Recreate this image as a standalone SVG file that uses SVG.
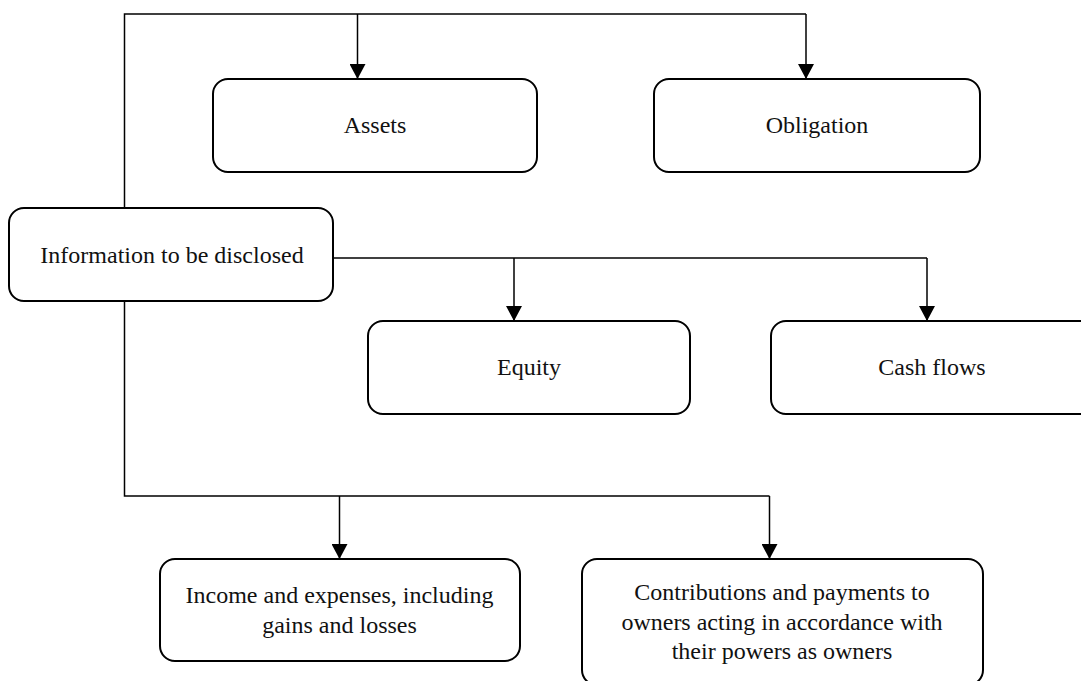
<svg xmlns="http://www.w3.org/2000/svg" width="1081" height="681" viewBox="0 0 1081 681">
  <defs>
    <marker id="arrow" markerUnits="userSpaceOnUse" markerWidth="15" markerHeight="16" viewBox="0 0 15 16" refX="15" refY="8" orient="auto">
      <path d="M0,0 L15,8 L0,16 Z" fill="#000"/>
    </marker>
    <style>
      .box { fill: #fff; stroke: #000; stroke-width: 2; }
      .lbl { font-family: "Liberation Serif", "Times New Roman", serif; font-size: 24px; fill: #111; text-anchor: middle; }
      .conn { fill: none; stroke: #000; stroke-width: 1.5; }
    </style>
  </defs>
  <rect width="1081" height="681" fill="#fff"/>

  <g id="connectors">
    <path class="conn" d="M124.5,208 V14 H806"/>
    <path class="conn" d="M357.5,14 V79" marker-end="url(#arrow)"/>
    <path class="conn" d="M806,14 V79" marker-end="url(#arrow)"/>
    <path class="conn" d="M333,258 H927"/>
    <path class="conn" d="M514,258 V321" marker-end="url(#arrow)"/>
    <path class="conn" d="M927,258 V321" marker-end="url(#arrow)"/>
    <path class="conn" d="M124.5,301 V496 H769.5"/>
    <path class="conn" d="M339.5,496 V559" marker-end="url(#arrow)"/>
    <path class="conn" d="M769.5,496 V559" marker-end="url(#arrow)"/>
  </g>

  <g id="node-assets">
    <rect class="box" x="213" y="79" width="324" height="93" rx="15"/>
    <text class="lbl" x="375" y="133">Assets</text>
  </g>
  <g id="node-obligation">
    <rect class="box" x="654" y="79" width="326" height="93" rx="15"/>
    <text class="lbl" x="817" y="133">Obligation</text>
  </g>
  <g id="node-info">
    <rect class="box" x="9" y="208" width="324" height="93" rx="15"/>
    <text class="lbl" x="172" y="263">Information to be disclosed</text>
  </g>
  <g id="node-equity">
    <rect class="box" x="368" y="321" width="322" height="93" rx="15"/>
    <text class="lbl" x="529" y="375">Equity</text>
  </g>
  <g id="node-cashflows">
    <rect class="box" x="771" y="321" width="324" height="93" rx="15"/>
    <text class="lbl" x="932" y="375">Cash flows</text>
  </g>
  <g id="node-income">
    <rect class="box" x="160" y="559" width="360" height="102" rx="15"/>
    <text class="lbl" x="339.5" y="603">Income and expenses, including</text>
    <text class="lbl" x="339.5" y="633">gains and losses</text>
  </g>
  <g id="node-contributions">
    <rect class="box" x="582" y="559" width="401" height="126" rx="15"/>
    <text class="lbl" x="782" y="600">Contributions and payments to</text>
    <text class="lbl" x="782" y="630">owners acting in accordance with</text>
    <text class="lbl" x="782" y="659">their powers as owners</text>
  </g>
</svg>
